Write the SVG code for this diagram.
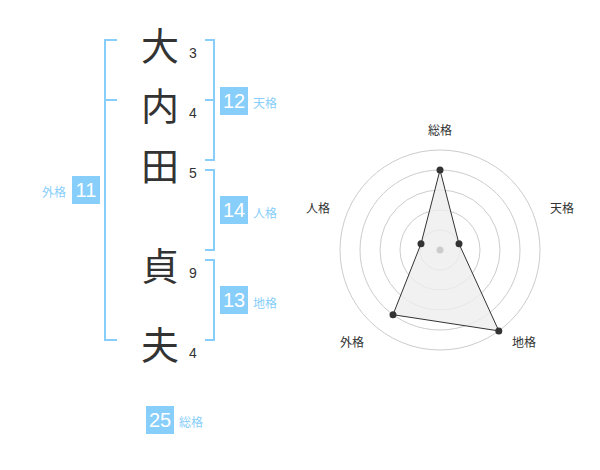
<svg xmlns="http://www.w3.org/2000/svg" width="600" height="470" viewBox="0 0 600 470">
<style>
.kanji{font-family:"Noto Sans CJK JP","Noto Sans CJK SC",sans-serif;font-size:38px;fill:#333;text-anchor:middle}
.num{font-family:"Liberation Sans",Arial,sans-serif;font-size:14px;fill:#333}
.br{fill:none;stroke:#87cefa;stroke-width:2}
.box{fill:#87cefa}
.bn{font-family:"Liberation Sans",Arial,sans-serif;font-size:20px;fill:#fff;text-anchor:middle}
.bl{font-family:"Noto Sans CJK JP","Noto Sans CJK SC",sans-serif;font-size:12px;fill:#87cefa}
.ring{fill:none;stroke:#cccccc;stroke-width:1}
.ax{font-family:"Noto Sans CJK JP","Noto Sans CJK SC",sans-serif;font-size:12px;fill:#333;text-anchor:middle}
.pt{fill:#333}
</style>
<rect width="600" height="470" fill="#fff"/>

<g id="chars">
<text class="kanji" x="160" y="60">大</text>
<text class="kanji" x="160" y="120">内</text>
<text class="kanji" x="160" y="180">田</text>
<text class="kanji" x="160" y="280">貞</text>
<text class="kanji" x="160" y="359">夫</text>
<text class="num" x="189" y="58">3</text>
<text class="num" x="189" y="118">4</text>
<text class="num" x="189" y="178">5</text>
<text class="num" x="189" y="278">9</text>
<text class="num" x="189" y="358">4</text>
</g>

<g id="connectors">
<path class="br" d="M117,40 H105 V340 H117 M105,100 H117"/>
<path class="br" d="M205,40 H214 V160 H205 M205,100 H214"/>
<path class="br" d="M205,170 H214 V250 H205"/>
<path class="br" d="M205,260 H214 V340 H205"/>
</g>

<g id="tenkaku">
<rect class="box" x="220" y="87" width="28" height="28"/>
<text class="bn" x="234" y="108">12</text>
<text class="bl" x="253" y="108">天格</text>
</g>
<g id="jinkaku">
<rect class="box" x="220" y="196" width="28" height="28"/>
<text class="bn" x="234" y="217">14</text>
<text class="bl" x="253" y="218">人格</text>
</g>
<g id="chikaku">
<rect class="box" x="220" y="286" width="28" height="28"/>
<text class="bn" x="234" y="307">13</text>
<text class="bl" x="253" y="308">地格</text>
</g>
<g id="gaikaku">
<rect class="box" x="72" y="176" width="28" height="28"/>
<text class="bn" x="86" y="197">11</text>
<text class="bl" x="66" y="197" text-anchor="end">外格</text>
</g>
<g id="soukaku">
<rect class="box" x="146" y="406" width="28" height="28"/>
<text class="bn" x="160" y="427">25</text>
<text class="bl" x="179" y="427">総格</text>
</g>

<g id="radar">
<circle class="ring" cx="440" cy="250" r="20"/>
<circle class="ring" cx="440" cy="250" r="40"/>
<circle class="ring" cx="440" cy="250" r="60"/>
<circle class="ring" cx="440" cy="250" r="80"/>
<circle class="ring" cx="440" cy="250" r="100"/>
<polygon points="440,170 459,243.8 498.8,330.9 393,314.7 421,243.8" fill="#eeeeee" fill-opacity="0.8" stroke="#333" stroke-width="1"/>
<circle cx="440" cy="250" r="3.5" fill="#cccccc"/>
<circle class="pt" cx="440" cy="170" r="3.5"/>
<circle class="pt" cx="459" cy="243.8" r="3.5"/>
<circle class="pt" cx="498.8" cy="330.9" r="3.5"/>
<circle class="pt" cx="393" cy="314.7" r="3.5"/>
<circle class="pt" cx="421" cy="243.8" r="3.5"/>
<text class="ax" x="440" y="135">総格</text>
<text class="ax" x="562" y="213">天格</text>
<text class="ax" x="318" y="213">人格</text>
<text class="ax" x="352" y="347">外格</text>
<text class="ax" x="524" y="347">地格</text>
</g>
</svg>
